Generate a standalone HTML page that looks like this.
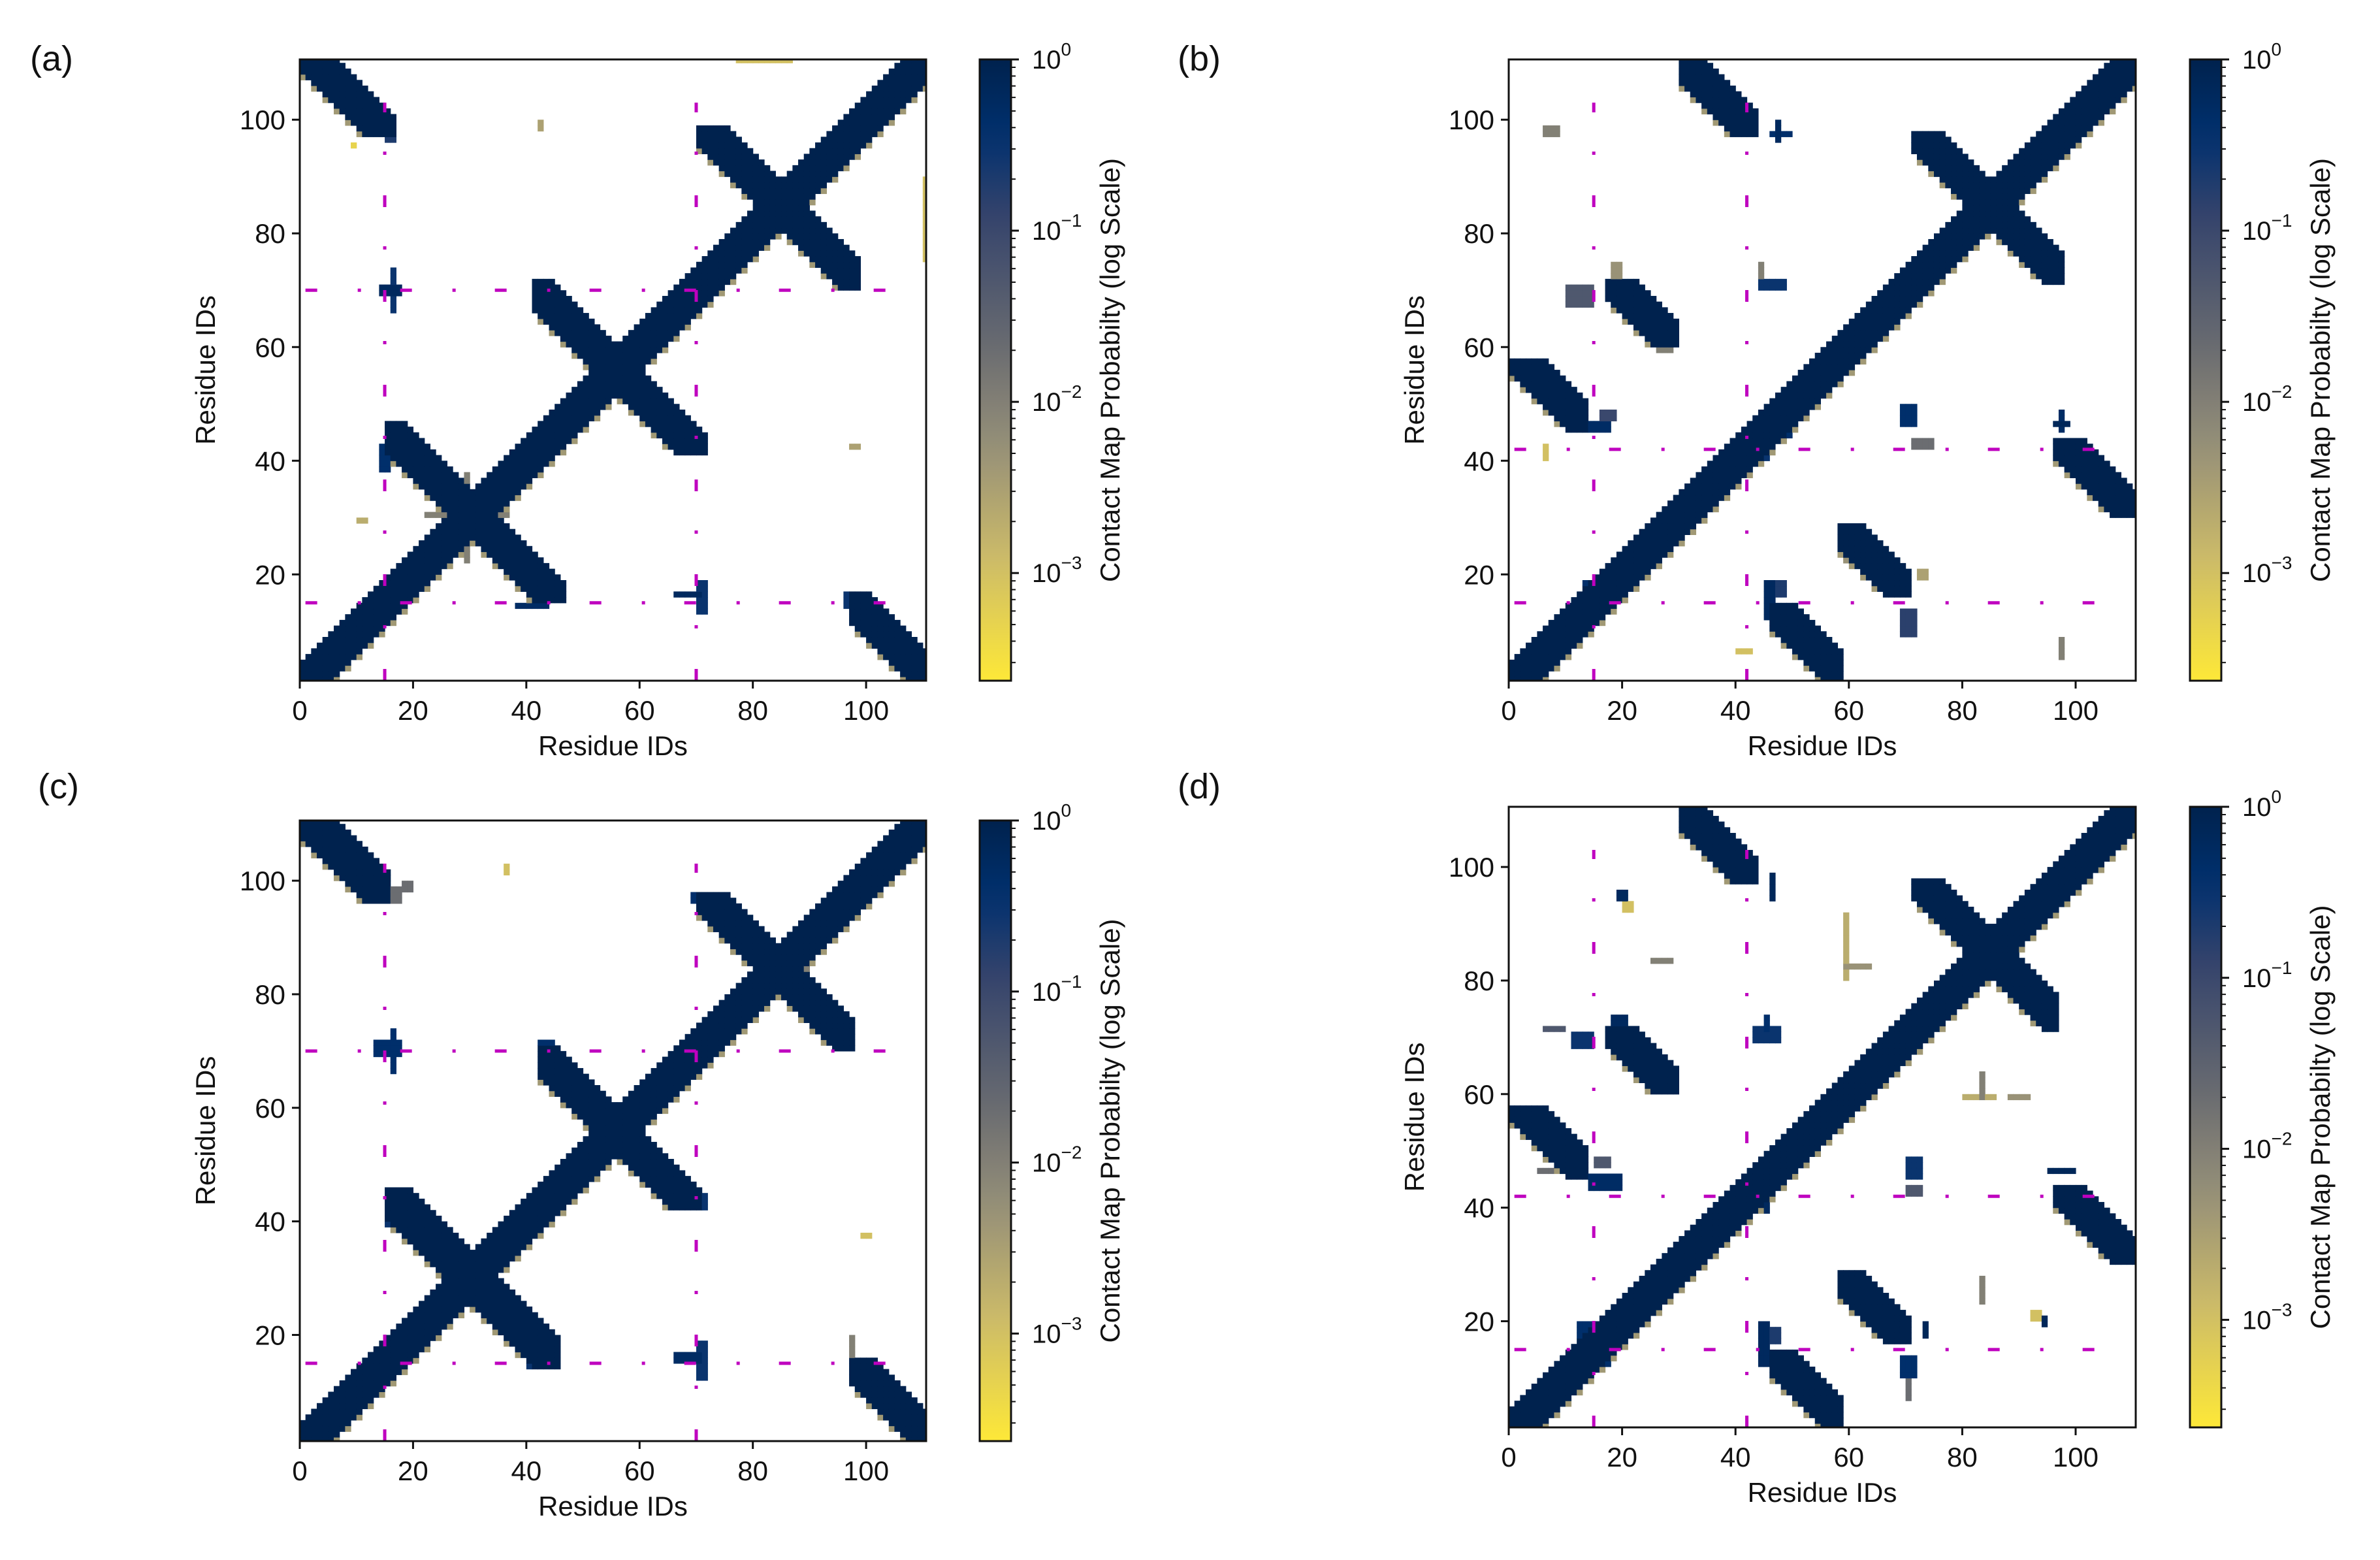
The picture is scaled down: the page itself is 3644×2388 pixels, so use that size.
<!DOCTYPE html>
<html><head><meta charset="utf-8">
<style>
html,body{margin:0;padding:0;background:#fff;}
svg text{font-family:"Liberation Sans","DejaVu Sans",sans-serif;fill:#111;}
</style></head>
<body>
<svg id="fig" xmlns="http://www.w3.org/2000/svg" width="3644" height="2383" viewBox="0 0 3644 2383">
<rect x="0" y="0" width="3644" height="2383" fill="#fff"/>
</svg>
<script>
// ---- Data (residue coordinates) ----
// bands: [kind ('d' => y = x + off, 'a' => x + y = off), off, halfWidth, xFrom, xTo, yFrom, yTo, probability]
const bandsA = [['d',0,4,0,110,1,110,1],['a',60,4.5,15,46,15,46,1],['a',111,4.5,41,71,41,71,1],['a',169,4.5,70,98,70,98,1],['a',112,4.5,0,16,97,110,1],['a',112,4.5,97,110,1,16,1]];
const bandsB = [['d',0,4,0,110,1,110,1],['a',169,4.5,71,97,71,97,1],['a',140,4.5,30,43,97,110,1],['a',59,4.5,0,13,45,57,1],['a',89,4.5,17,29,60,71,1],['a',86,4.5,58,70,16,28,1],['a',60,4.5,46,58,1,14,1],['a',140,4.5,96,110,30,43,1]];
const bandsC = [['d',0,4,0,110,1,110,1],['a',59.5,4.5,15,45,14,45,1],['a',111,4.5,42,70,42,70,1],['a',168,4.5,70,97,70,97,1],['a',111.5,4.5,0,15,96,110,1],['a',112,4.5,97,110,1,15,1]];
const bandsD = [['d',0,4,0,110,1,110,1],['a',169,4.5,71,96,71,97,1],['a',140,4.5,30,43,97,110,1],['a',59,4.5,0,13,45,57,1],['a',89,4.5,17,29,60,71,1],['a',86,4.5,58,70,16,28,1],['a',60,4.5,46,58,1,14,1],['a',140,4.5,96,110,30,43,1]];
// spots: [x, y, width, height, probability]
const spotsA = [[14,69,4,2,0.6],[16,66,1,8,0.3],[66,16,5,1,0.6],[70,13,2,6,0.3],[12,13,6,3,0.4],[38,14,6,1,0.5],[22,30,15,1,0.01],[29,22,1,16,0.01],[42,98,1,2,0.003],[97,42,2,1,0.003],[77,110,10,1,0.001],[110,75,1,15,0.001],[9,95,1,1,0.0005],[10,29,2,1,0.002],[80,84,10,1,0.01],[42,69,2,3,0.6],[70,41,2,4,0.6],[96,71,2,2,0.3],[70,96,2,3,0.3],[15,96,2,3,0.2],[96,14,3,3,0.3],[14,38,2,5,0.4]];
const spotsB = [[6,97,3,2,0.01],[10,67,5,4,0.05],[18,72,2,3,0.005],[44,70,5,2,0.3],[44,72,1,3,0.01],[42,44,8,3,0.4],[45,40,1,10,0.3],[69,46,3,4,0.4],[71,42,4,2,0.02],[96,46,3,1,0.7],[97,45,1,4,0.5],[11,45,7,2,0.5],[16,47,3,2,0.1],[13,13,5,6,0.4],[45,12,2,7,0.6],[46,16,3,3,0.2],[69,9,3,5,0.15],[97,5,1,4,0.01],[40,6,3,1,0.001],[6,40,1,3,0.001],[47,96,1,4,0.6],[46,97,4,1,0.4],[72,19,2,2,0.003],[26,59,3,2,0.01],[59,22,1,4,0.005]];
const spotsC = [[36,101,1,2,0.001],[99,37,2,1,0.001],[13,69,5,3,0.4],[16,66,1,8,0.4],[66,15,5,2,0.5],[70,12,2,7,0.3],[97,14,1,6,0.01],[14,96,4,3,0.02],[18,98,2,2,0.02],[69,96,4,2,0.4],[42,70,3,2,0.4],[70,42,2,3,0.3],[95,70,3,2,0.3],[14,15,5,4,0.3],[40,14,4,2,0.3],[15,39,2,5,0.3],[80,84,10,1,0.01]];
const spotsD = [[19,94,2,2,0.6],[20,92,2,2,0.001],[25,83,4,1,0.01],[59,82,5,1,0.005],[59,80,1,12,0.002],[83,59,1,5,0.01],[80,59,6,1,0.002],[88,59,4,1,0.005],[46,94,1,5,0.7],[18,72,3,2,0.6],[11,68,4,3,0.3],[6,71,4,1,0.05],[43,69,5,3,0.3],[45,71,1,3,0.4],[42,45,8,2,0.4],[45,39,1,10,0.6],[70,45,3,4,0.3],[70,42,3,2,0.05],[95,46,5,1,0.7],[14,43,6,3,0.5],[15,47,3,2,0.05],[5,46,3,1,0.02],[12,12,6,8,0.4],[44,12,2,8,0.6],[46,16,2,3,0.2],[69,10,3,4,0.4],[70,6,1,4,0.02],[73,17,1,3,0.7],[92,20,2,2,0.001],[94,19,1,2,0.7],[83,23,1,5,0.01]];
const guidesA = [15,70];
const guidesB = [42,15];
const xTicks = [0,20,40,60,80,100];
const yTicks = [20,40,60,80,100];
const cbExps = [0,-1,-2,-3];

// ---- layout ----
const panels = [
 {id:'a',label:'(a)',lx:46,ly:108,L:459,R:1418,T:91,B:1042,cbL:1500,bands:bandsA,spots:spotsA,guides:guidesA},
 {id:'b',label:'(b)',lx:1803,ly:108,L:2310,R:3270,T:91,B:1042,cbL:3353,bands:bandsB,spots:spotsB,guides:guidesB},
 {id:'c',label:'(c)',lx:58,ly:1222,L:459,R:1418,T:1256,B:2206,cbL:1500,bands:bandsC,spots:spotsC,guides:guidesA},
 {id:'d',label:'(d)',lx:1803,ly:1222,L:2310,R:3270,T:1235,B:2185,cbL:3353,bands:bandsD,spots:spotsD,guides:guidesB}
];
const NS='http://www.w3.org/2000/svg';
const svg=document.getElementById('fig');
const X0=0,X1=110.6,Y0=1.3,Y1=110.6,PMIN=Math.log10(2.35e-4);
const stops=[[0,[0,34,78]],[0.12,[0,48,110]],[0.25,[52,67,108]],[0.45,[102,105,112]],[0.62,[149,143,120]],[0.8,[203,186,105]],[1,[254,232,56]]];
function cmap(t){t=Math.max(0,Math.min(1,t));for(let k=1;k<stops.length;k++){if(t<=stops[k][0]){const a=stops[k-1],b=stops[k];const f=(t-a[0])/(b[0]-a[0]);const c=a[1].map((v,i)=>Math.round(v+(b[1][i]-v)*f));return 'rgb('+c.join(',')+')';}}return 'rgb(254,232,56)';}
function colorP(p){return cmap((0-Math.log10(p))/(0-PMIN));}
function el(tag,attrs,parent){const e=document.createElementNS(NS,tag);for(const k in attrs)e.setAttribute(k,attrs[k]);(parent||svg).appendChild(e);return e;}

panels.forEach(P=>{
 const W=P.R-P.L,H=P.B-P.T;
 const xs=v=>P.L+(v-X0)/(X1-X0)*W;
 const ys=v=>P.B-(v-Y0)/(Y1-Y0)*H;
 const g=el('g',{});
 
 
 const lab=el('text',{x:P.lx,y:P.ly,'font-size':54},g);lab.textContent=P.label;
 
 
 const cp=el('clipPath',{id:'clip'+P.id},g);el('rect',{x:P.L,y:P.T,width:W,height:H},cp);
 const hg=el('g',{'clip-path':'url(#clip'+P.id+')'},g);
 
 
 for(let i=0;i<=110;i++){for(let j=1;j<=110;j++){
  let p=0;
  P.bands.forEach(b=>{const [k,off,hw,xa,xb,ya,yb,v]=b;
   const d=(k==='d')?(j-i-off):(i+j-off);
   const inBox=i>=xa&&i<=xb&&j>=ya&&j<=yb;
   if(inBox&&Math.abs(d)<=hw)p=Math.max(p,v);
   else if(inBox&&d<-hw&&d>=-hw-1&&(i%2===0))p=Math.max(p,0.004);
  });
  P.spots.forEach(s=>{const [sx,sy,sw,sh,v]=s;if(i>=sx&&i<sx+sw&&j>=sy&&j<sy+sh)p=Math.max(p,v);});
  if(p>0){const r=el('rect',{x:xs(i).toFixed(2),y:ys(j+1).toFixed(2),width:(xs(i+1)-xs(i)+0.6).toFixed(2),height:(ys(j)-ys(j+1)+0.6).toFixed(2),fill:colorP(p)},hg);
   
   }
 }}
 P.guides.forEach(v=>{
  const lv=el('line',{x1:xs(v),x2:xs(v),y1:ys(1.3),y2:ys(103),stroke:'#bf00bf','stroke-width':5,'stroke-dasharray':'18 62 5 60'},g);
  
  
  const lh=el('line',{x1:xs(1),x2:xs(104),y1:ys(v),y2:ys(v),stroke:'#bf00bf','stroke-width':5,'stroke-dasharray':'18 62 5 60'},g);
  
  
 });
 const fr=el('rect',{x:P.L,y:P.T,width:W,height:H,fill:'none',stroke:'#111','stroke-width':3},g);
 
 
 xTicks.forEach(t=>{const x=xs(t);el('line',{x1:x,x2:x,y1:P.B,y2:P.B+12,stroke:'#111','stroke-width':3},g);
  const tx=el('text',{x:x,y:P.B+60,'font-size':42,'text-anchor':'middle'},g);tx.textContent=t;
  
  });
 yTicks.forEach(t=>{const y=ys(t);el('line',{x1:P.L-12,x2:P.L,y1:y,y2:y,stroke:'#111','stroke-width':3},g);
  const ty=el('text',{x:P.L-22,y:y+15,'font-size':42,'text-anchor':'end'},g);ty.textContent=t;
  
  });
 const xt=el('text',{x:(P.L+P.R)/2,y:P.B+114,'font-size':42,'text-anchor':'middle'},g);xt.textContent='Residue IDs';
 
 
 const yt=el('text',{x:0,y:0,'font-size':42,'text-anchor':'middle',transform:'translate('+(P.L-130)+','+((P.T+P.B)/2)+') rotate(-90)'},g);yt.textContent='Residue IDs';
 
 
 const cbW=48,cbg=el('g',{},g);
 
 
 const gid='grad'+P.id;const lg=el('linearGradient',{id:gid,x1:0,y1:0,x2:0,y2:1},cbg);
 for(let k=0;k<=20;k++){el('stop',{offset:(k/20),'stop-color':cmap(k/20)},lg);}
 el('rect',{x:P.cbL,y:P.T,width:cbW,height:H,fill:'url(#'+gid+')',stroke:'#111','stroke-width':3},cbg);
 const cy=e=>P.T+(0-e)/(0-PMIN)*H;
 cbExps.forEach(e=>{const y=cy(e);el('line',{x1:P.cbL+cbW,x2:P.cbL+cbW+12,y1:y,y2:y,stroke:'#111','stroke-width':3},cbg);
  const t=el('text',{x:P.cbL+80,y:y+14,'font-size':40},cbg);
  
  
  const t1=el('tspan',{},t);t1.textContent='10';
  const t2=el('tspan',{dy:-20,'font-size':28},t);t2.textContent=(e===0?'0':'\u2212'+(-e));
  for(let m=2;m<=9;m++){const ym=cy(e-1+Math.log10(m));if(ym>P.T&&ym<P.B)el('line',{x1:P.cbL+cbW,x2:P.cbL+cbW+7,y1:ym,y2:ym,stroke:'#111','stroke-width':2},cbg);}
 });
 const cl=el('text',{x:0,y:0,'font-size':42,'text-anchor':'middle',transform:'translate('+(P.cbL+214)+','+((P.T+P.B)/2)+') rotate(-90)'},cbg);
 cl.textContent='Contact Map Probabilty (log Scale)';
 
 
});
</script>
</body></html>
